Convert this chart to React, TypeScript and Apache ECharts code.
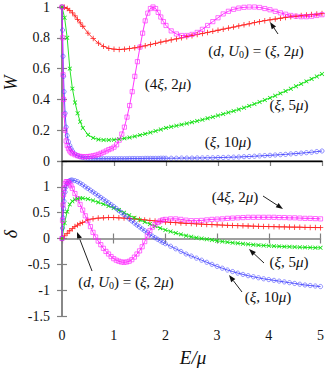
import React, { useEffect, useRef } from "react";
import * as echarts from "echarts";

// Energy grids (E/mu)
const E_A = [0, 0.05, 0.1, 0.15, 0.2, 0.25, 0.3, 0.35, 0.4, 0.5, 0.6, 0.7, 0.8, 0.9, 1.0, 1.1, 1.2, 1.3, 1.4, 1.5, 1.6, 1.7, 1.8, 1.9, 2.0, 2.1, 2.2, 2.3, 2.4, 2.5, 2.6, 2.7, 2.8, 2.9, 3.0, 3.1, 3.2, 3.3, 3.4, 3.5, 3.6, 3.7, 3.8, 3.9, 4.0, 4.1, 4.2, 4.3, 4.4, 4.5, 4.6, 4.7, 4.8, 4.9, 5.0];
const E_B = [0, 0.01, 0.02, 0.03, 0.04, 0.06, 0.08, 0.1, 0.125, 0.15, 0.175, 0.2,
  0.25, 0.3, 0.35, 0.4, 0.45, 0.5, 0.55, 0.6, 0.65, 0.7, 0.75, 0.8, 0.85, 0.9, 0.95, 1.0,
  1.05, 1.1, 1.15, 1.2, 1.25, 1.3, 1.35, 1.4, 1.45, 1.5, 1.55, 1.6, 1.65, 1.7, 1.75, 1.8, 1.85, 1.9, 1.95, 2.0,
  2.1, 2.2, 2.3, 2.4, 2.5, 2.6, 2.7, 2.8, 2.9, 3.0, 3.1, 3.2, 3.3, 3.4, 3.5, 3.6, 3.7, 3.8, 3.9, 4.0,
  4.1, 4.2, 4.3, 4.4, 4.5, 4.6, 4.7, 4.8, 4.9, 5.0];

// W panel: (d,U0) = (xi,2mu) red, (xi,5mu) green on E_A
const W_red = [1.0, 0.998, 0.99, 0.978, 0.962, 0.942, 0.92, 0.897, 0.875,
  0.83, 0.795, 0.765, 0.745, 0.732, 0.726, 0.724, 0.726, 0.73, 0.735, 0.741, 0.748, 0.756, 0.764, 0.772, 0.779,
  0.786, 0.793, 0.8, 0.807, 0.814, 0.821, 0.828, 0.835, 0.842, 0.849,
  0.856, 0.863, 0.87, 0.877, 0.884, 0.891, 0.898, 0.905, 0.911, 0.917,
  0.922, 0.927, 0.932, 0.936, 0.94, 0.944, 0.948, 0.951, 0.954, 0.957];
const W_green = [1.0, 0.93, 0.8, 0.6, 0.47, 0.38, 0.31, 0.255, 0.215,
  0.17, 0.15, 0.14, 0.136, 0.136, 0.138, 0.142, 0.147, 0.153, 0.16, 0.168, 0.176, 0.185, 0.195, 0.205, 0.215,
  0.222, 0.229, 0.236, 0.244, 0.252, 0.26, 0.268, 0.277, 0.286, 0.295,
  0.305, 0.315, 0.325, 0.335, 0.346, 0.358, 0.37, 0.383, 0.396, 0.41,
  0.424, 0.439, 0.454, 0.469, 0.485, 0.501, 0.517, 0.533, 0.549, 0.565];
// W panel: (xi,10mu) blue, (4xi,2mu) magenta on E_B
const W_blue = [1.0, 0.85, 0.68, 0.55, 0.45, 0.31, 0.22, 0.165, 0.125, 0.1, 0.08, 0.065,
  0.045, 0.034, 0.027, 0.022, 0.019, 0.017, 0.016, 0.015, 0.015, 0.015, 0.015, 0.015, 0.015, 0.015, 0.015, 0.015,
  0.015, 0.015, 0.015, 0.015, 0.015, 0.016, 0.016, 0.016, 0.016, 0.016, 0.016, 0.017, 0.017, 0.017, 0.017, 0.017, 0.017, 0.018, 0.018, 0.018,
  0.018, 0.018, 0.019, 0.019, 0.019, 0.02, 0.02, 0.021, 0.021, 0.022,
  0.023, 0.024, 0.025, 0.026, 0.028, 0.029, 0.031, 0.033, 0.035, 0.037,
  0.039, 0.041, 0.043, 0.046, 0.048, 0.051, 0.054, 0.057, 0.061, 0.065];
const W_mag = [1.0, 0.8, 0.56, 0.4, 0.3, 0.2, 0.13, 0.1, 0.08, 0.065, 0.055, 0.048,
  0.04, 0.034, 0.03, 0.028, 0.028, 0.029, 0.031, 0.034, 0.038, 0.043, 0.05, 0.057, 0.065, 0.074, 0.08, 0.09,
  0.105, 0.135, 0.175, 0.22, 0.285, 0.36, 0.45, 0.55, 0.645, 0.74, 0.83, 0.91, 0.96, 0.99, 1.0, 0.99, 0.965, 0.935, 0.905, 0.88,
  0.845, 0.825, 0.815, 0.815, 0.822, 0.835, 0.855, 0.88, 0.905, 0.93,
  0.955, 0.972, 0.985, 0.993, 0.998, 1.0, 1.0, 0.997, 0.99, 0.982,
  0.972, 0.962, 0.953, 0.945, 0.94, 0.937, 0.937, 0.94, 0.945, 0.95];

// delta panel
const D_red = [0, 0.05, 0.1, 0.15, 0.19, 0.23, 0.26, 0.29, 0.31,
  0.36, 0.38, 0.395, 0.4, 0.405, 0.405, 0.4, 0.395, 0.388, 0.38, 0.37, 0.36, 0.35, 0.34, 0.33, 0.32,
  0.313, 0.306, 0.3, 0.294, 0.288, 0.283, 0.278, 0.273, 0.268, 0.264,
  0.26, 0.256, 0.252, 0.248, 0.245, 0.242, 0.239, 0.236, 0.233, 0.23,
  0.228, 0.226, 0.224, 0.222, 0.22, 0.218, 0.216, 0.214, 0.212, 0.21];
const D_green = [0, 0.3, 0.52, 0.66, 0.72, 0.755, 0.77, 0.778, 0.78,
  0.765, 0.735, 0.7, 0.665, 0.63, 0.59, 0.55, 0.5, 0.45, 0.4, 0.36, 0.32, 0.28, 0.24, 0.2, 0.165,
  0.135, 0.105, 0.08, 0.055, 0.035, 0.015, 0, -0.015, -0.03, -0.045,
  -0.058, -0.07, -0.082, -0.093, -0.103, -0.112, -0.12, -0.128, -0.135, -0.141,
  -0.147, -0.152, -0.157, -0.161, -0.165, -0.169, -0.172, -0.175, -0.178, -0.18];
const D_blue = [0, 0.2, 0.4, 0.58, 0.72, 0.9, 1.0, 1.06, 1.1, 1.12, 1.13, 1.13,
  1.12, 1.1, 1.07, 1.04, 1.0, 0.97, 0.935, 0.9, 0.865, 0.83, 0.795, 0.76, 0.725, 0.69, 0.655, 0.62,
  0.58, 0.54, 0.5, 0.46, 0.42, 0.38, 0.34, 0.3, 0.26, 0.225, 0.185, 0.15, 0.115, 0.08, 0.045, 0.015, -0.015, -0.045, -0.075, -0.1,
  -0.15, -0.2, -0.25, -0.3, -0.34, -0.38, -0.42, -0.46, -0.5, -0.54,
  -0.575, -0.61, -0.64, -0.67, -0.695, -0.72, -0.74, -0.76, -0.78, -0.795,
  -0.81, -0.825, -0.84, -0.855, -0.87, -0.885, -0.9, -0.91, -0.92, -0.93];
const D_mag = [0, 0.35, 0.65, 0.85, 0.97, 1.06, 1.1, 1.1, 1.09, 1.06, 1.02, 0.97,
  0.87, 0.77, 0.66, 0.55, 0.44, 0.34, 0.23, 0.12, 0.03, -0.05, -0.12, -0.19, -0.25, -0.3, -0.35, -0.39,
  -0.42, -0.44, -0.455, -0.46, -0.455, -0.44, -0.41, -0.36, -0.3, -0.24, -0.16, -0.06, 0.05, 0.15, 0.22, 0.27, 0.31, 0.34, 0.36, 0.37,
  0.38, 0.38, 0.37, 0.355, 0.345, 0.345, 0.35, 0.36, 0.37, 0.375,
  0.38, 0.39, 0.395, 0.4, 0.405, 0.41, 0.41, 0.41, 0.41, 0.41,
  0.41, 0.405, 0.405, 0.4, 0.4, 0.395, 0.39, 0.39, 0.385, 0.38];

const W_TICKS = [0, 0.2, 0.4, 0.6, 0.8, 1];
const D_TICKS = [-1.5, -1, -0.5, 0, 0.5, 1, 1.5];
const E_TICKS = [0, 1, 2, 3, 4, 5];

const SERIF = "'Liberation Serif', 'DejaVu Serif', serif";
const RED = "#ff2020";
const GREEN = "#10e010";
const BLUE = "#4848ff";
const MAG = "#ff20ff";
const FRAME = "#808080";
const PLUS = "path://M4.3,0H5.7V4.3H10V5.7H5.7V10H4.3V5.7H0V4.3H4.3Z";

const pairs = (xs: number[], ys: number[]) => xs.map((x, i) => [x, ys[i]]);

function mkSeries(xs: number[], ys: number[], panel: number, kind: string) {
  const base: any = {
    type: "line",
    data: pairs(xs, ys),
    xAxisIndex: panel * 2,
    yAxisIndex: panel * 2,
    showSymbol: true,
    showAllSymbol: true,
    silent: true,
    emphasis: { disabled: true },
    animation: false,
  };
  if (kind === "red") {
    return { ...base, symbol: PLUS, symbolSize: 5.5, lineStyle: { color: RED, width: 0.9 }, itemStyle: { color: RED } };
  }
  if (kind === "green") {
    return { ...base, symbol: PLUS, symbolSize: 5.5, symbolRotate: 45, lineStyle: { color: GREEN, width: 0.9 }, itemStyle: { color: GREEN } };
  }
  if (kind === "blue") {
    return { ...base, symbol: "circle", symbolSize: 4.2, lineStyle: { color: BLUE, width: 0.9 }, itemStyle: { color: "rgba(0,0,0,0)", borderColor: BLUE, borderWidth: 0.8, opacity: 0.75 } };
  }
  return { ...base, symbol: "rect", symbolSize: 4.2, lineStyle: { color: MAG, width: 0.9 }, itemStyle: { color: "rgba(0,0,0,0)", borderColor: MAG, borderWidth: 0.8, opacity: 0.8 } };
}

const rich = {
  i: { fontStyle: "italic", fontFamily: SERIF, fontSize: 15, fill: "#111" },
  n: { fontFamily: SERIF, fontSize: 15, fill: "#111" },
  s: { fontFamily: SERIF, fontSize: 10, fill: "#111", verticalAlign: "bottom", padding: [6, 0, 0, 0] },
};

const LBL_DU = "{n|(}{i|d}{n|, }{i|U}{s|0}{n|) = (}{i|ξ}{n|, 2}{i|μ}{n|)}";
const LBL_4XI = "{n|(4}{i|ξ}{n|, 2}{i|μ}{n|)}";
const LBL_5 = "{n|(}{i|ξ}{n|, 5}{i|μ}{n|)}";
const LBL_10 = "{n|(}{i|ξ}{n|, 10}{i|μ}{n|)}";

function label(text: string, x: number, y: number) {
  return {
    type: "text",
    x,
    y,
    silent: true,
    style: { text, rich, align: "center", verticalAlign: "middle", textAlign: "center", textVerticalAlign: "middle", fontFamily: SERIF, fontSize: 15, fill: "#111" },
  };
}

function arrow(x1: number, y1: number, x2: number, y2: number) {
  const ang = Math.atan2(y2 - y1, x2 - x1);
  const L = 7;
  const H = 2.6;
  const bx = x2 - L * Math.cos(ang);
  const by = y2 - L * Math.sin(ang);
  const px = -Math.sin(ang) * H;
  const py = Math.cos(ang) * H;
  return [
    { type: "line", silent: true, shape: { x1, y1, x2: bx, y2: by }, style: { stroke: "#222", lineWidth: 1 } },
    { type: "polygon", silent: true, shape: { points: [[x2, y2], [bx + px, by + py], [bx - px, by - py]] }, style: { fill: "#111" } },
  ];
}

export default function App() {
  const ref = useRef<HTMLDivElement>(null);
  useEffect(() => {
    if (!ref.current) return;
    const chart = echarts.init(ref.current, undefined, { renderer: "svg" });
    const tickStyle = { show: true, inside: true, length: 5, lineStyle: { color: FRAME, width: 1.2 } };
    const frameLine = { show: true, lineStyle: { color: FRAME, width: 1.5 } };
    const xBase = { type: "value", min: 0, max: 5, interval: 1, splitLine: { show: false } };
    const labelStyle = { fontFamily: SERIF, fontSize: 14, color: "#111" };

    const option: any = {
      animation: false,
      grid: [
        { left: 62, right: 5, top: 5, height: 156 },
        { left: 62, right: 5, top: 161, height: 155 },
      ],
      xAxis: [
        { ...xBase, gridIndex: 0, position: "bottom", axisLine: { show: true, lineStyle: { color: "#000", width: 1.3 } }, axisTick: { show: false }, axisLabel: { show: false }, z: 5 },
        { ...xBase, gridIndex: 0, position: "top", axisLine: frameLine, axisTick: tickStyle, axisLabel: { show: false } },
        { ...xBase, gridIndex: 1, position: "bottom", axisLine: frameLine, axisTick: tickStyle, axisLabel: { show: true, margin: 12, ...labelStyle, formatter: (v: number) => (E_TICKS.includes(v) ? String(v) : "") } },
        { ...xBase, gridIndex: 1, position: "top", axisLine: { show: false }, axisTick: tickStyle, axisLabel: { show: false } },
      ],
      yAxis: [
        { type: "value", gridIndex: 0, min: 0, max: 1, interval: 0.2, position: "left", axisLine: frameLine, axisTick: tickStyle, splitLine: { show: false }, axisLabel: { show: true, margin: 12, ...labelStyle, formatter: (v: number) => (W_TICKS.some((t) => Math.abs(t - v) < 1e-9) ? String(Math.round(v * 10) / 10) : "") } },
        { type: "value", gridIndex: 0, min: 0, max: 1, interval: 0.2, position: "right", axisLine: frameLine, axisTick: tickStyle, splitLine: { show: false }, axisLabel: { show: false } },
        { type: "value", gridIndex: 1, min: -1.5, max: 1.5, interval: 0.5, position: "left", axisLine: frameLine, axisTick: tickStyle, splitLine: { show: false }, axisLabel: { show: true, margin: 12, ...labelStyle, formatter: (v: number) => (v > 1.2 || !D_TICKS.some((t) => Math.abs(t - v) < 1e-9) ? "" : String(v)) } },
        { type: "value", gridIndex: 1, min: -1.5, max: 1.5, interval: 0.5, position: "right", axisLine: frameLine, axisTick: tickStyle, splitLine: { show: false }, axisLabel: { show: false } },
      ],
      series: [
        mkSeries(E_A, W_red, 0, "red"),
        mkSeries(E_A, W_green, 0, "green"),
        mkSeries(E_B, W_blue, 0, "blue"),
        mkSeries(E_B, W_mag, 0, "mag"),
        mkSeries(E_A, D_red, 1, "red"),
        mkSeries(E_A, D_green, 1, "green"),
        mkSeries(E_B, D_blue, 1, "blue"),
        mkSeries(E_B, D_mag, 1, "mag"),
      ],
      graphic: [
        label(LBL_DU, 256, 51),
        ...arrow(278, 34, 270, 22),
        label(LBL_4XI, 168, 84),
        label(LBL_5, 289, 105),
        label(LBL_10, 228, 142),
        label(LBL_4XI, 235, 197),
        ...arrow(263, 196, 283, 209),
        label(LBL_5, 289, 262),
        ...arrow(264, 263, 249, 249),
        label(LBL_10, 268, 297),
        ...arrow(242, 292, 229, 275),
        label(LBL_DU, 126, 282),
        ...arrow(92, 271, 77, 232),
        {
          type: "text", x: 11, y: 83, rotation: Math.PI / 2, silent: true,
          style: { text: "W", align: "center", verticalAlign: "middle", textAlign: "center", textVerticalAlign: "middle", fontFamily: SERIF, fontStyle: "italic", fontSize: 18, fill: "#111" },
        },
        {
          type: "text", x: 11, y: 234, rotation: Math.PI / 2, silent: true,
          style: { text: "δ", align: "center", verticalAlign: "middle", textAlign: "center", textVerticalAlign: "middle", fontFamily: SERIF, fontStyle: "italic", fontSize: 18, fill: "#111" },
        },
        {
          type: "text", x: 193, y: 357, silent: true,
          style: { text: "E/μ", align: "center", verticalAlign: "middle", textAlign: "center", textVerticalAlign: "middle", fontFamily: SERIF, fontStyle: "italic", fontSize: 19, fill: "#111" },
        },
      ],
    };
    chart.setOption(option);
    return () => chart.dispose();
  }, []);
  return <div ref={ref} style={{ position: "fixed", left: 0, top: 0, width: 327, height: 369, background: "#fff" }} />;
}
